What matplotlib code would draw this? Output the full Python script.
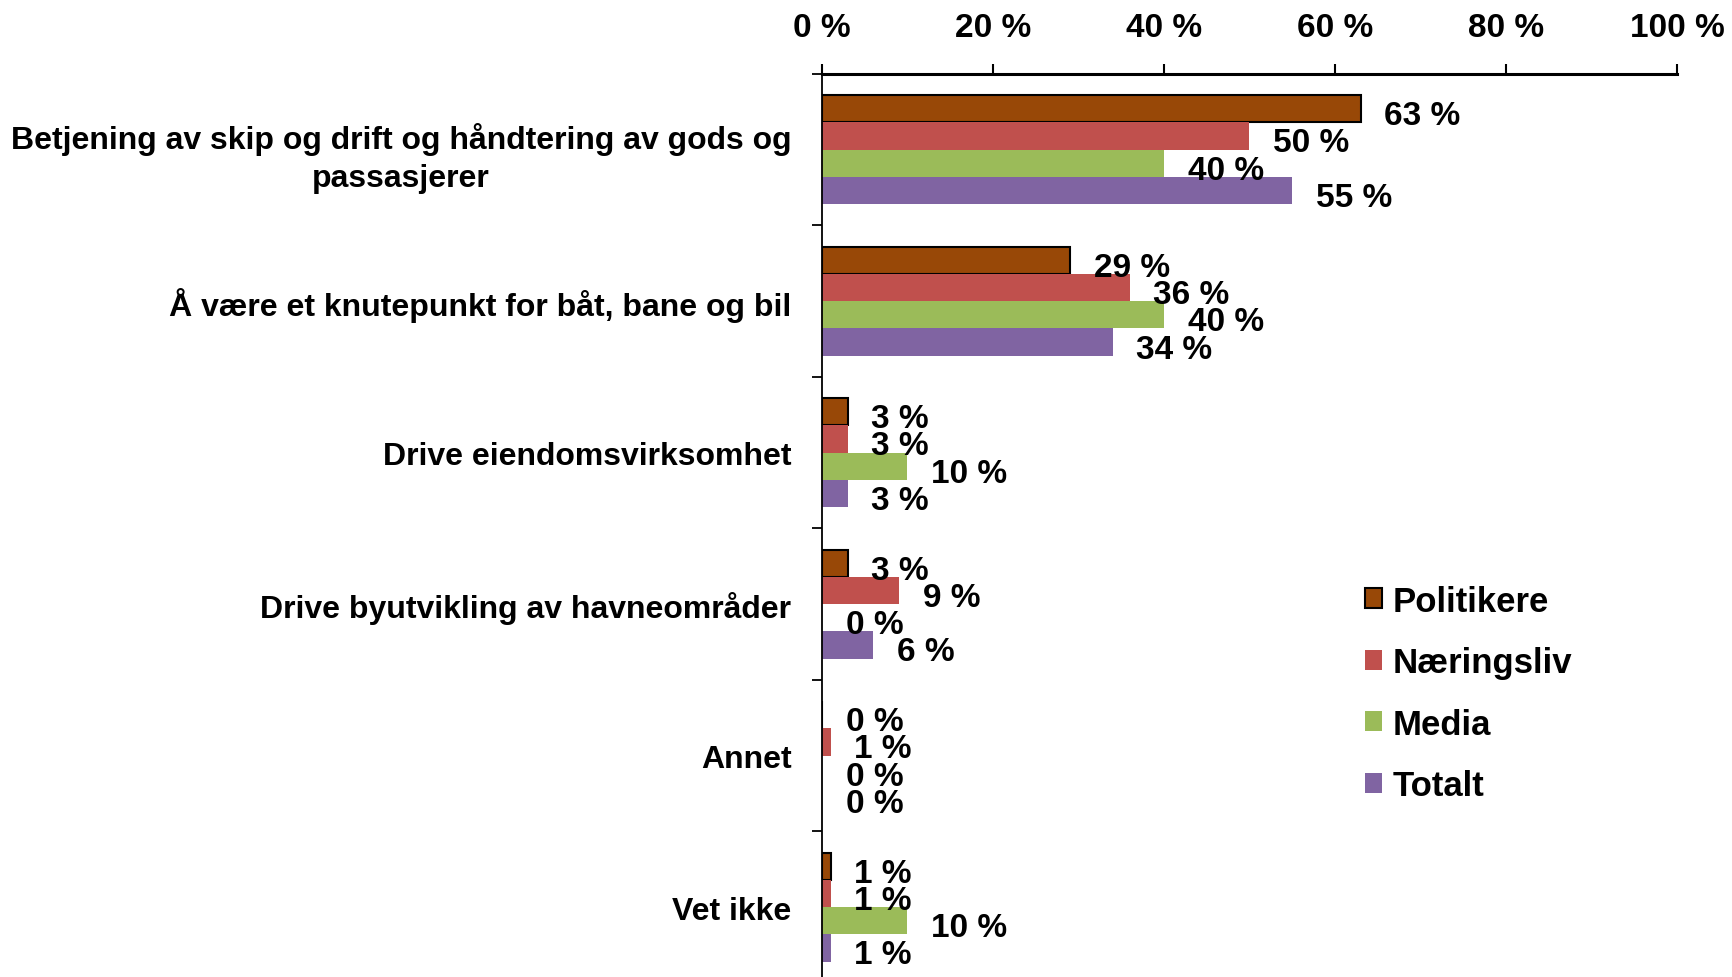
import matplotlib
matplotlib.use('Agg')
import matplotlib.pyplot as plt
from matplotlib.patches import Patch
import numpy as np

plt.rcParams['font.family'] = ['Liberation Sans', 'DejaVu Sans']
plt.rcParams['font.weight'] = 'bold'

categories = [
    'Betjening av skip og drift og håndtering av gods og\npassasjerer',
    'Å være et knutepunkt for båt, bane og bil',
    'Drive eiendomsvirksomhet',
    'Drive byutvikling av havneområder',
    'Annet',
    'Vet ikke',
]
series = ['Politikere', 'Næringsliv', 'Media', 'Totalt']
politikere = [63, 29, 3, 3, 0, 1]
naeringsliv = [50, 36, 3, 9, 1, 1]
media = [40, 40, 10, 0, 0, 10]
totalt = [55, 34, 3, 6, 0, 1]
x_ticks = [0, 20, 40, 60, 80, 100]
x_tick_labels = ['0 %', '20 %', '40 %', '60 %', '80 %', '100 %']

colors = ['#984807', '#C0504D', '#9BBB59', '#8064A2']
edges = ['black', 'none', 'none', 'none']
values = [politikere, naeringsliv, media, totalt]

fig = plt.figure(figsize=(17.32, 9.78), dpi=100)
ax = fig.add_axes([0.4746, -0.006, 0.4936, 0.9294])

y = np.arange(len(categories))
h = 0.18
for j, (vals, col, ec) in enumerate(zip(values, colors, edges)):
    pos = y + (j - 1.5) * h
    ax.barh(pos, vals, height=h, color=col, edgecolor=ec,
            linewidth=1.5 if ec != 'none' else 0, label=series[j])
    # value labels, Excel style: to the right of the bar, a bit low
    for p, v in zip(pos, vals):
        ax.annotate(f'{v} %', (v, p), xytext=(17, -5), textcoords='offset points',
                    ha='left', va='center', fontsize=24, fontweight='bold')

ax.set_xlim(0, 100)
ax.set_ylim(len(categories) - 0.5, -0.5)
ax.xaxis.tick_top()
ax.set_xticks(x_ticks)
ax.set_xticklabels(x_tick_labels, fontsize=24, fontweight='bold')
ax.tick_params(axis='x', length=7, width=1.5, pad=15)

ax.set_yticks(y)
ax.set_yticklabels(categories, fontsize=23, fontweight='bold',
                   multialignment='center', linespacing=1.35)
ax.tick_params(axis='y', which='major', length=0, pad=22)
ax.set_yticks(np.arange(-0.5, len(categories) + 0.5, 1), minor=True)
ax.tick_params(axis='y', which='minor', length=7, width=1.3)

for s in ['right', 'bottom']:
    ax.spines[s].set_visible(False)
ax.spines['top'].set_linewidth(2.2)
ax.spines['left'].set_linewidth(1.3)

handles = [Patch(facecolor=c, edgecolor=e, linewidth=1.5 if e != 'none' else 0)
           for c, e in zip(colors, edges)]
fig.legend(handles, series, loc='center left', bbox_to_anchor=(0.77, 0.29),
           frameon=False, handlelength=0.5, handleheight=0.5,
           handletextpad=0.3, labelspacing=0.82, prop={'weight': 'bold', 'size': 25})

fig.savefig('out.png', dpi=100)
